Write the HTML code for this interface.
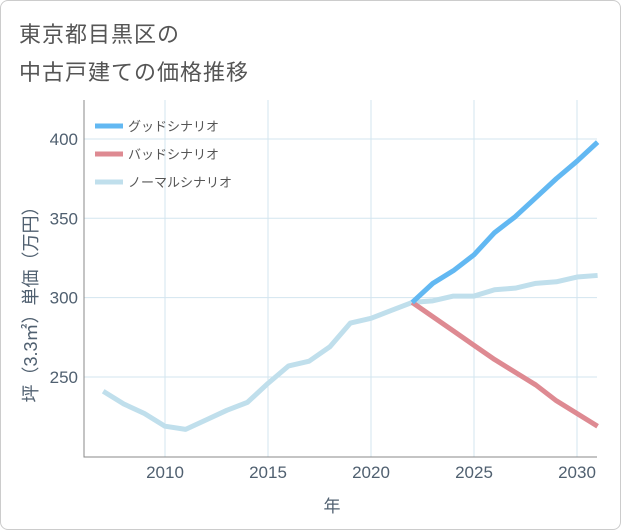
<!DOCTYPE html>
<html><head><meta charset="utf-8"><style>
body{margin:0;background:#fff;}
#wrap{position:relative;width:619px;height:528px;border:1px solid #ccc;border-radius:8px;overflow:hidden;background:#fff;font-family:"Liberation Sans","Noto Sans CJK JP",sans-serif;}
.title{position:absolute;left:18px;font-size:22px;color:#555;letter-spacing:1px;}
</style></head><body>
<div id="wrap">
<div class="title" style="top:16px">東京都目黒区の</div>
<div class="title" style="top:54px">中古戸建ての価格推移</div>
<svg id="chart" width="621" height="530" style="position:absolute;left:-1px;top:-1px"></svg>
</div>
<script>
const years=[2007,2008,2009,2010,2011,2012,2013,2014,2015,2016,2017,2018,2019,2020,2021,2022,2023,2024,2025,2026,2027,2028,2029,2030,2031];
const normalVals=[241,233,227,219,217,223,229,234,246,257,260,269,284,287,292,297,298,301,301,305,306,309,310,313,314];
const goodYears=[2022,2023,2024,2025,2026,2027,2028,2029,2030,2031];
const goodVals=[297,309,317,327,341,351,363,375,386,398];
const badVals=[297,288,279,270,261,253,245,235,227,219];
const xTicks=[2010,2015,2020,2025,2030];
const yTicks=[250,300,350,400];
const NS="http://www.w3.org/2000/svg";
const svg=document.getElementById('chart');
const L=84,R=597,T=100,B=457;
function x(v){return 165+(v-2010)*20.6;}
function y(v){return 377-(v-250)*1.587;}
function mk(t,a){const e=document.createElementNS(NS,t);for(const k in a)e.setAttribute(k,a[k]);svg.appendChild(e);return e;}
xTicks.forEach(t=>{
 const l=mk('line',{x1:x(t),x2:x(t),y1:T,y2:B,stroke:'#d3e5ef','stroke-width':1});
 
 
 const tx=mk('text',{x:x(t),y:478,'text-anchor':'middle','font-size':17,fill:'#506070'});
 tx.textContent=t;
 
 
});
yTicks.forEach(t=>{
 const l=mk('line',{x1:L,x2:R,y1:y(t),y2:y(t),stroke:'#d3e5ef','stroke-width':1});
 
 
 const tx=mk('text',{x:78,y:y(t)+6,'text-anchor':'end','font-size':17,fill:'#506070'});
 tx.textContent=t;
 
 
});
const ax=mk('path',{d:`M${L},${T}V${B}H${R}`,fill:'none',stroke:'#888','stroke-width':1});


function line(xs,vs,color,name){
 const p=mk('polyline',{points:xs.map((v,i)=>x(v)+','+y(vs[i])).join(' '),fill:'none',stroke:color,'stroke-width':5,'stroke-linejoin':'round'});
 
 
}
line(years,normalVals,'#c0dfec','normal-scenario-line');
line(goodYears,badVals,'#de8a92','bad-scenario-line');
line(goodYears,goodVals,'#62b8f2','good-scenario-line');
const leg=[['グッドシナリオ','#62b8f2','legend-good'],['バッドシナリオ','#de8a92','legend-bad'],['ノーマルシナリオ','#c0dfec','legend-normal']];
leg.forEach((l,i)=>{
 const yy=126+i*28;
 const s=mk('line',{x1:95,x2:123,y1:yy,y2:yy,stroke:l[1],'stroke-width':5});
 
 
 const t=mk('text',{x:128,y:yy+5,'font-size':13,fill:'#555'});
 t.textContent=l[0];
 
 
});
const xt=mk('text',{x:332,y:512,'text-anchor':'middle','font-size':17,fill:'#506070'});
xt.textContent='年';


const yt=mk('text',{x:0,y:0,'text-anchor':'middle','font-size':18,fill:'#506070',transform:'translate(37,300) rotate(-90)'});
yt.textContent='坪（3.3㎡）単価（万円）';


</script>
</body></html>
